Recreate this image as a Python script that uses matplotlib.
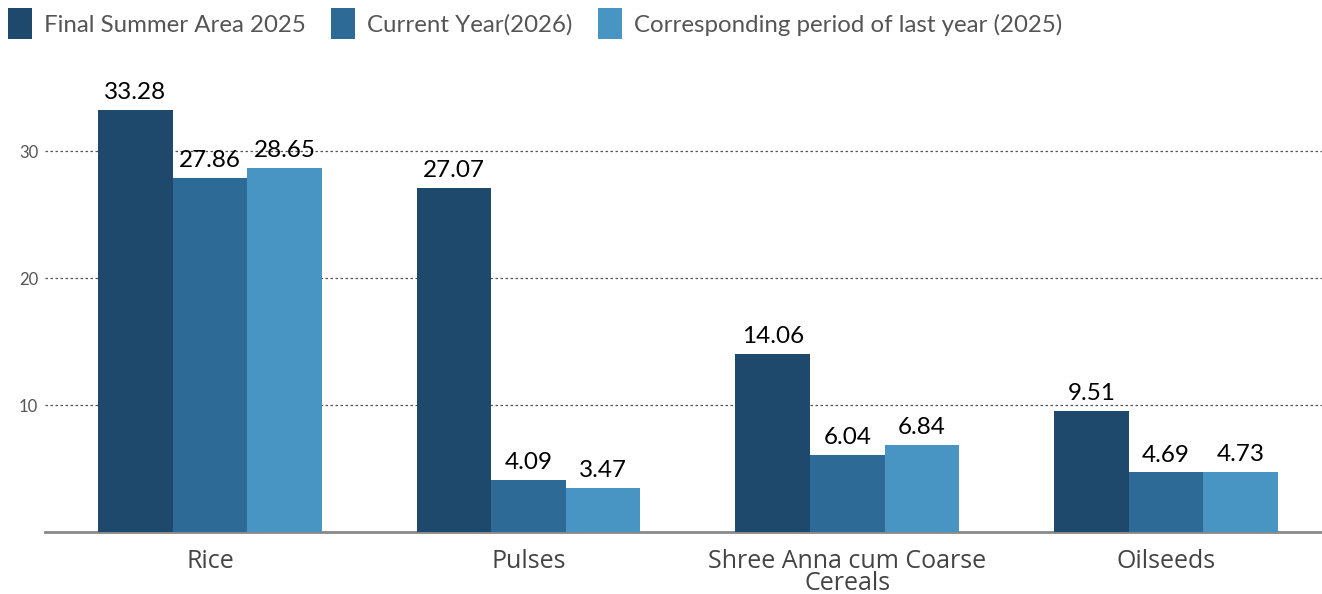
import matplotlib.pyplot as plt
from matplotlib.patches import Patch
import numpy as np

categories = ["Rice", "Pulses", "Shree Anna cum Coarse\nCereals", "Oilseeds"]
series_names = ["Final Summer Area 2025", "Current Year(2026)",
                "Corresponding period of last year (2025)"]
final_2025 = [33.28, 27.07, 14.06, 9.51]
current_2026 = [27.86, 4.09, 6.04, 4.69]
last_year_2025 = [28.65, 3.47, 6.84, 4.73]
yticks = [10, 20, 30]

colors = ["#1f496c", "#2d6a95", "#4895c3"]
label_font = ["Lato", "DejaVu Sans"]
cat_font = ["Open Sans", "DejaVu Sans"]

fig = plt.figure(figsize=(13.22, 5.94), dpi=100)
ax = fig.add_axes([45 / 1322, 62 / 594, 1 - 45 / 1322, 457 / 594])

x = np.arange(len(categories))
w = 0.234
for i, vals in enumerate([final_2025, current_2026, last_year_2025]):
    bars = ax.bar(x + (i - 1) * w, vals, width=w, color=colors[i], zorder=3)
    for b, v in zip(bars, vals):
        ax.annotate("%.2f" % v, (b.get_x() + b.get_width() / 2, v),
                    xytext=(0, 5), textcoords="offset points",
                    ha="center", va="bottom", fontsize=17.5,
                    family=label_font, color="black", zorder=4)

ax.set_xlim(-0.518, 3.49)
ax.set_ylim(0, 36)
ax.set_yticks(yticks)
ax.set_yticklabels([str(t) for t in yticks], family=label_font,
                   fontsize=12, color="#555555")
ax.yaxis.grid(True, linestyle=(0, (2, 2)), color="#555555", linewidth=0.9, zorder=0)
ax.tick_params(axis="y", length=0, pad=5)
ax.tick_params(axis="x", length=0, pad=12)
ax.set_xticks(x)
ax.set_xticklabels(categories, family=cat_font, fontsize=18,
                   color="#444444", linespacing=0.85)

for s in ["top", "right", "left"]:
    ax.spines[s].set_visible(False)
ax.spines["bottom"].set_color("#888888")
ax.spines["bottom"].set_linewidth(2)

handles = [Patch(facecolor=c) for c in colors]
fig.legend(handles, series_names, loc="upper left", bbox_to_anchor=(0.0, 1.0),
           ncol=3, frameon=False, handlelength=1.0, handleheight=1.6,
           handletextpad=0.5, columnspacing=1.05, borderaxespad=0.1,
           borderpad=0.25,
           prop={"family": label_font, "size": 17.3}, labelcolor="#555555")

plt.savefig("out.png", dpi=100)
